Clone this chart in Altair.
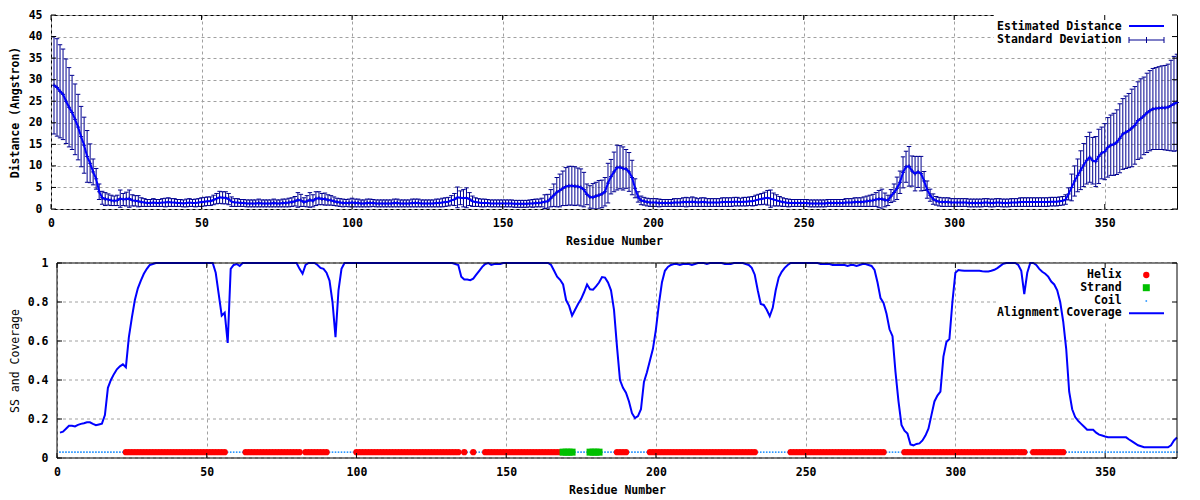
import altair as alt
import pandas as pd

# ---------------- data ----------------
RESIDUES = list(range(1, 375))

DIST = [
    28.7, 28.2, 27.3, 26.6, 25.0, 23.6, 22.4, 20.8, 19.0, 16.8,
    14.8, 12.2, 10.6, 8.6, 7.0, 4.0, 2.6, 2.3, 2.2, 2.0,
    1.9, 2.0, 2.4, 2.2, 2.3, 2.4, 2.0, 1.9, 1.8, 1.6,
    1.5, 1.4, 1.4, 1.5, 1.4, 1.4, 1.5, 1.5, 1.6, 1.5,
    1.5, 1.4, 1.4, 1.3, 1.4, 1.5, 1.4, 1.4, 1.5, 1.6,
    1.7, 1.8, 1.8, 2.1, 2.4, 2.7, 2.6, 2.6, 2.3, 1.7,
    1.5, 1.5, 1.4, 1.4, 1.3, 1.3, 1.3, 1.3, 1.4, 1.3,
    1.3, 1.3, 1.3, 1.4, 1.3, 1.3, 1.4, 1.4, 1.5, 1.6,
    1.8, 2.1, 2.0, 1.6, 1.8, 2.1, 1.9, 2.4, 2.5, 2.3,
    2.3, 2.1, 2.0, 1.8, 1.6, 1.5, 1.4, 1.4, 1.4, 1.5,
    1.4, 1.4, 1.3, 1.3, 1.4, 1.4, 1.4, 1.3, 1.3, 1.3,
    1.3, 1.3, 1.3, 1.4, 1.4, 1.3, 1.3, 1.3, 1.3, 1.4,
    1.4, 1.4, 1.3, 1.3, 1.3, 1.3, 1.3, 1.4, 1.4, 1.5,
    1.6, 1.7, 2.0, 2.2, 2.7, 2.6, 2.5, 2.6, 2.3, 1.8,
    1.6, 1.5, 1.4, 1.4, 1.4, 1.3, 1.3, 1.3, 1.3, 1.3,
    1.3, 1.3, 1.3, 1.2, 1.2, 1.2, 1.2, 1.2, 1.3, 1.3,
    1.4, 1.4, 1.5, 1.7, 1.8, 2.5, 3.2, 3.9, 4.3, 4.8,
    5.2, 5.4, 5.4, 5.3, 5.2, 5.0, 4.5, 3.4, 2.8, 2.7,
    3.0, 3.2, 3.5, 4.0, 6.0, 7.5, 8.6, 9.6, 9.7, 9.4,
    9.3, 8.6, 7.3, 4.8, 2.8, 2.0, 1.8, 1.6, 1.5, 1.5,
    1.5, 1.4, 1.4, 1.4, 1.4, 1.4, 1.5, 1.5, 1.5, 1.6,
    1.6, 1.6, 1.7, 1.6, 1.5, 1.6, 1.6, 1.5, 1.5, 1.5,
    1.5, 1.5, 1.6, 1.6, 1.6, 1.6, 1.7, 1.7, 1.6, 1.7,
    1.7, 1.8, 1.8, 2.0, 2.2, 2.3, 2.5, 2.6, 2.4, 2.2,
    2.0, 1.8, 1.6, 1.5, 1.4, 1.4, 1.4, 1.4, 1.4, 1.4,
    1.4, 1.3, 1.3, 1.3, 1.3, 1.3, 1.3, 1.4, 1.4, 1.4,
    1.4, 1.4, 1.4, 1.5, 1.5, 1.5, 1.6, 1.6, 1.6, 1.7,
    1.8, 1.9, 2.0, 2.2, 2.3, 2.3, 2.1, 2.0, 3.0, 3.8,
    4.8, 6.2, 8.5, 9.8, 9.9, 8.8, 8.2, 8.6, 8.2, 6.5,
    4.5, 3.2, 2.3, 1.9, 1.7, 1.6, 1.6, 1.6, 1.5, 1.5,
    1.5, 1.5, 1.5, 1.5, 1.4, 1.4, 1.4, 1.4, 1.4, 1.5,
    1.5, 1.4, 1.4, 1.5, 1.5, 1.4, 1.4, 1.4, 1.5, 1.5,
    1.5, 1.6, 1.6, 1.6, 1.6, 1.6, 1.6, 1.6, 1.6, 1.6,
    1.6, 1.7, 1.7, 1.7, 1.8, 1.9, 2.2, 3.5, 5.0, 6.5,
    7.8, 9.0, 10.2, 11.3, 12.0, 11.2, 11.0, 12.2, 13.0, 13.3,
    14.3, 14.8, 15.0, 15.5, 16.4, 17.4, 17.8, 18.2, 18.8, 19.4,
    20.5, 21.0, 21.6, 22.3, 22.8, 23.2, 23.3, 23.4, 23.5, 23.5,
    23.6, 24.0, 24.4, 24.7,
]

STD = [
    11.3, 11.3, 10.8, 10.5, 9.8, 9.2, 8.6, 8.2, 7.6, 7.0,
    6.5, 6.0, 4.5, 3.0, 2.4, 1.8, 1.5, 1.5, 1.3, 1.2,
    1.1, 1.2, 2.0, 1.4, 1.6, 2.0, 1.3, 1.2, 1.3, 1.0,
    0.9, 0.8, 0.8, 0.9, 0.8, 0.8, 0.9, 1.0, 1.0, 0.9,
    0.9, 0.8, 0.8, 0.8, 0.9, 0.9, 0.8, 0.9, 0.9, 1.0,
    1.0, 1.0, 1.0, 1.1, 1.2, 1.4, 1.4, 1.4, 1.3, 1.1,
    0.9, 0.9, 0.8, 0.8, 0.8, 0.8, 0.8, 0.8, 0.9, 0.8,
    0.8, 0.8, 0.8, 0.9, 0.8, 0.8, 0.9, 0.9, 1.0, 1.0,
    1.1, 1.7, 1.4, 1.0, 1.3, 1.7, 1.4, 1.6, 1.5, 1.3,
    1.4, 1.2, 1.1, 1.0, 0.9, 0.9, 0.9, 0.8, 0.9, 1.0,
    0.9, 0.9, 0.8, 0.8, 0.9, 0.9, 0.8, 0.8, 0.8, 0.8,
    0.8, 0.8, 0.8, 0.9, 0.9, 0.8, 0.8, 0.8, 0.8, 0.9,
    0.9, 0.9, 0.8, 0.8, 0.8, 0.8, 0.8, 0.9, 0.9, 1.0,
    1.0, 1.0, 1.1, 1.4, 2.4, 1.6, 2.0, 2.3, 1.5, 1.2,
    1.0, 0.9, 0.9, 0.9, 0.8, 0.8, 0.8, 0.8, 0.8, 0.8,
    0.8, 0.8, 0.8, 0.8, 0.8, 0.8, 0.8, 0.8, 0.8, 0.9,
    0.9, 0.9, 1.0, 1.6, 1.6, 2.0, 2.6, 3.4, 3.8, 4.0,
    4.4, 4.5, 4.5, 4.5, 4.3, 4.3, 4.0, 2.4, 2.6, 3.2,
    3.2, 3.4, 3.2, 3.3, 4.6, 4.0, 4.6, 5.2, 5.0, 5.0,
    4.5, 4.5, 4.0, 2.2, 1.2, 1.0, 0.9, 0.9, 0.9, 0.9,
    0.9, 0.9, 0.8, 0.8, 0.8, 0.8, 0.9, 0.9, 0.9, 1.0,
    1.1, 1.0, 1.1, 1.0, 0.9, 1.0, 1.0, 0.9, 0.9, 0.9,
    0.9, 0.9, 1.0, 1.0, 1.0, 1.0, 1.0, 1.0, 0.9, 1.0,
    1.0, 1.0, 1.1, 1.2, 1.2, 1.3, 1.4, 1.7, 2.0, 1.5,
    1.3, 1.1, 1.0, 0.9, 0.9, 0.8, 0.8, 0.8, 0.8, 0.8,
    0.8, 0.8, 0.8, 0.8, 0.8, 0.8, 0.8, 0.8, 0.8, 0.8,
    0.8, 0.8, 0.8, 0.9, 0.9, 0.9, 1.0, 1.0, 1.0, 1.1,
    1.2, 1.3, 1.4, 1.6, 2.0, 2.3, 1.6, 1.2, 1.5, 2.0,
    2.6, 2.6, 3.6, 3.6, 4.6, 3.5, 4.0, 3.6, 4.0, 2.2,
    2.0, 1.4, 1.2, 1.0, 1.0, 1.0, 1.0, 1.0, 0.9, 0.9,
    0.9, 0.9, 0.9, 0.9, 0.9, 0.9, 0.9, 0.9, 0.9, 0.9,
    0.9, 0.9, 0.9, 0.9, 0.9, 0.9, 0.9, 0.9, 0.9, 0.9,
    0.9, 1.0, 1.0, 1.0, 1.0, 1.0, 1.0, 1.0, 1.0, 1.0,
    1.0, 1.0, 1.0, 1.0, 1.0, 1.0, 1.1, 1.4, 3.1, 3.5,
    3.8, 4.5, 5.0, 5.5, 5.8, 5.4, 5.8, 6.3, 6.0, 6.5,
    6.9, 7.0, 7.2, 7.5, 8.0, 8.2, 8.4, 8.6, 9.0, 9.0,
    9.0, 9.2, 9.0, 9.2, 9.3, 9.4, 9.5, 9.6, 9.7, 9.8,
    10.0, 10.5, 11.0, 11.2,
]

COVERAGE = [
    0.130, 0.135, 0.150, 0.165, 0.165, 0.162, 0.170, 0.175, 0.178, 0.183,
    0.183, 0.175, 0.168, 0.172, 0.176, 0.220, 0.360, 0.400, 0.430, 0.455,
    0.470, 0.480, 0.465, 0.620, 0.720, 0.810, 0.870, 0.910, 0.945, 0.970,
    0.990, 0.995, 1.0, 1.0, 1.0, 1.0, 1.0, 1.0, 1.0, 1.0,
    1.0, 1.0, 1.0, 1.0, 1.0, 1.0, 1.0, 1.0, 1.0, 1.0,
    1.0, 1.0, 0.950, 0.840, 0.730, 0.745, 0.590, 0.970, 0.990, 0.995,
    0.985, 1.0, 1.0, 1.0, 1.0, 1.0, 1.0, 1.0, 1.0, 1.0,
    1.0, 1.0, 1.0, 1.0, 1.0, 1.0, 1.0, 1.0, 1.0, 1.0,
    0.970, 0.945, 0.990, 1.0, 1.0, 1.0, 0.990, 0.975, 0.970, 0.950,
    0.910, 0.800, 0.620, 0.860, 0.970, 1.0, 1.0, 1.0, 1.0, 1.0,
    1.0, 1.0, 1.0, 1.0, 1.0, 1.0, 1.0, 1.0, 1.0, 1.0,
    1.0, 1.0, 1.0, 1.0, 1.0, 1.0, 1.0, 1.0, 1.0, 1.0,
    1.0, 1.0, 1.0, 1.0, 1.0, 1.0, 1.0, 1.0, 1.0, 1.0,
    1.0, 1.0, 0.995, 0.990, 0.930, 0.915, 0.915, 0.912, 0.920, 0.940,
    0.960, 0.980, 0.995, 1.0, 0.990, 0.995, 0.995, 0.995, 1.0, 1.0,
    1.0, 1.0, 1.0, 1.0, 1.0, 1.0, 1.0, 1.0, 1.0, 1.0,
    1.0, 1.0, 1.0, 1.0, 0.990, 0.960, 0.930, 0.914, 0.890, 0.810,
    0.780, 0.730, 0.760, 0.790, 0.815, 0.850, 0.890, 0.865, 0.863, 0.880,
    0.900, 0.928, 0.925, 0.900, 0.860, 0.760, 0.570, 0.400, 0.360, 0.335,
    0.290, 0.230, 0.205, 0.215, 0.250, 0.390, 0.440, 0.500, 0.560, 0.660,
    0.790, 0.900, 0.960, 0.980, 0.990, 0.995, 0.995, 0.990, 0.995, 0.995,
    0.995, 0.990, 0.995, 1.0, 1.0, 1.0, 0.995, 1.0, 1.0, 1.0,
    1.0, 1.0, 0.995, 0.995, 0.995, 1.0, 1.0, 1.0, 1.0, 0.995,
    0.990, 0.975, 0.940, 0.860, 0.790, 0.785, 0.760, 0.727, 0.770, 0.860,
    0.925, 0.955, 0.975, 0.990, 1.0, 1.0, 1.0, 1.0, 1.0, 1.0,
    1.0, 1.0, 1.0, 1.0, 0.995, 0.995, 0.995, 0.995, 0.990, 0.990,
    0.990, 0.990, 0.990, 0.985, 0.990, 0.990, 0.985, 0.990, 0.995, 0.995,
    0.990, 0.985, 0.964, 0.900, 0.820, 0.795, 0.740, 0.660, 0.625, 0.440,
    0.290, 0.170, 0.140, 0.125, 0.070, 0.065, 0.072, 0.075, 0.090, 0.115,
    0.150, 0.220, 0.290, 0.320, 0.340, 0.520, 0.595, 0.610, 0.800, 0.950,
    0.964, 0.962, 0.960, 0.960, 0.960, 0.960, 0.960, 0.960, 0.958, 0.957,
    0.957, 0.960, 0.965, 0.974, 0.985, 0.996, 1.0, 1.0, 1.0, 1.0,
    0.990, 0.960, 0.840, 0.950, 1.0, 1.0, 0.990, 0.970, 0.955, 0.945,
    0.930, 0.905, 0.890, 0.860, 0.800, 0.700, 0.560, 0.340, 0.250, 0.210,
    0.190, 0.175, 0.160, 0.145, 0.145, 0.145, 0.130, 0.120, 0.115, 0.110,
    0.106, 0.106, 0.106, 0.106, 0.106, 0.106, 0.106, 0.095, 0.085, 0.075,
    0.065, 0.060, 0.055, 0.055, 0.055, 0.055, 0.055, 0.055, 0.055, 0.055,
    0.055, 0.065, 0.090, 0.105,
]

HELIX_SEGMENTS = [(23, 56), (63, 81), (83, 90), (100, 134), (136, 136), (139, 139),
                  (143, 168), (187, 190), (198, 233), (245, 276), (283, 323), (326, 336)]
STRAND_SEGMENTS = [(169, 172), (178, 181)]
SS_LEVEL = 0.03

X_TICKS = [0, 50, 100, 150, 200, 250, 300, 350]
TOP_Y_TICKS = [0, 5, 10, 15, 20, 25, 30, 35, 40, 45]
BOT_Y_TICKS = [0, 0.2, 0.4, 0.6, 0.8, 1.0]
X_MAX = 374

# ---------------- tables ----------------
top_df = pd.DataFrame({"residue": RESIDUES, "dist": DIST, "std": STD})
top_df["lo"] = (top_df["dist"] - top_df["std"]).clip(lower=0)
top_df["hi"] = top_df["dist"] + top_df["std"]

ss = ["C"] * len(RESIDUES)
for a, b in HELIX_SEGMENTS:
    for r in range(a, b + 1):
        ss[r - 1] = "H"
for a, b in STRAND_SEGMENTS:
    for r in range(a, b + 1):
        ss[r - 1] = "E"
bot_df = pd.DataFrame({"residue": RESIDUES, "coverage": COVERAGE, "ss": ss})
bot_df["level"] = SS_LEVEL

one = pd.DataFrame({"k": [0]})
xt_df = pd.DataFrame({"t": X_TICKS})
yt_top = pd.DataFrame({"t": TOP_Y_TICKS})
yt_bot = pd.DataFrame({"t": BOT_Y_TICKS})

# ---------------- style ----------------
FONT = "DejaVu Sans Mono"
FS = 11.5
LINE_BLUE = "#0000ff"
ERR_BLUE = "#000090"
HELIX_RED = "#ff0000"
STRAND_GREEN = "#00c000"
COIL_BLUE = "#1e90ff"
GRID = "#a0a0a0"

W, H1, H2 = 1126, 194, 195
L2 = 6  # the lower panel's frame starts 6px to the right of the upper one

xs_top = alt.Scale(domain=[0, X_MAX], nice=False, zero=False)
xs_bot = alt.Scale(domain=[0, X_MAX], nice=False, zero=False, range=[L2, W])
ys_top = alt.Scale(domain=[0, 45], nice=False, zero=False)
ys_bot = alt.Scale(domain=[0, 1], nice=False, zero=False)

X_AXIS = alt.Axis(values=X_TICKS, format="d", title="Residue Number", grid=True,
                  labelPadding=8, titlePadding=7)
Y_AXIS_TOP = alt.Axis(values=TOP_Y_TICKS, format="d", title="Distance (Angstron)", grid=True,
                      labelPadding=9, titlePadding=8)
Y_AXIS_BOT = alt.Axis(values=BOT_Y_TICKS, format=".1~f", title="SS and Coverage", grid=False,
                      labelPadding=9, titlePadding=7, offset=-L2, titleFontWeight="normal")


def XT(field):
    return alt.X(field, scale=xs_top, axis=X_AXIS)


def XB(field):
    return alt.X(field, scale=xs_bot, axis=X_AXIS)


def YT(field):
    return alt.Y(field, scale=ys_top, axis=Y_AXIS_TOP)


def YB(field):
    return alt.Y(field, scale=ys_bot, axis=Y_AXIS_BOT)


def label(txt, x, y):
    return alt.Chart(one).mark_text(align="right", baseline="middle", font=FONT, fontSize=FS,
                                    fontWeight="bold", color="black").encode(
        x=alt.value(x), y=alt.value(y), text=alt.value(txt))


def hline(x1, x2, y, color, w):
    return alt.Chart(one).mark_rule(color=color, strokeWidth=w).encode(
        x=alt.value(x1), x2=alt.value(x2), y=alt.value(y))


def vline(x, y1, y2, color, w):
    return alt.Chart(one).mark_rule(color=color, strokeWidth=w).encode(
        x=alt.value(x), y=alt.value(y1), y2=alt.value(y2))


def box(x1, x2, y1, y2):
    return alt.Chart(one).mark_rect(color="white").encode(
        x=alt.value(x1), x2=alt.value(x2), y=alt.value(y1), y2=alt.value(y2))


def inner_ticks(Xf, ydf, Yf, left, right, H):
    bx = alt.Chart(xt_df).mark_rule(color="black").encode(
        x=Xf("t:Q"), y=alt.value(H), y2=alt.value(H - 5))
    tx = alt.Chart(xt_df).mark_rule(color="black").encode(
        x=Xf("t:Q"), y=alt.value(0), y2=alt.value(5))
    ly = alt.Chart(ydf).mark_rule(color="black").encode(
        y=Yf("t:Q"), x=alt.value(left), x2=alt.value(left + 5))
    ry = alt.Chart(ydf).mark_rule(color="black").encode(
        y=Yf("t:Q"), x=alt.value(right - 5), x2=alt.value(right))
    return [bx, tx, ly, ry]


# ---------------- top panel ----------------
base_top = alt.Chart(top_df)
err = base_top.mark_rule(color=ERR_BLUE, strokeWidth=1, clip=True).encode(
    x=XT("residue:Q"), y=YT("lo:Q"), y2="hi:Q")
cap_hi = base_top.mark_point(shape="M-1,0H1", size=20, filled=False, strokeWidth=1,
                             color=ERR_BLUE, opacity=1, clip=True).encode(
    x=XT("residue:Q"), y=YT("hi:Q"))
cap_lo = base_top.mark_point(shape="M-1,0H1", size=20, filled=False, strokeWidth=1,
                             color=ERR_BLUE, opacity=1, clip=True).encode(
    x=XT("residue:Q"), y=YT("lo:Q"))
ctr = base_top.mark_point(shape="M-1,0H1M0,-1V1", size=16, filled=False, strokeWidth=1,
                          color=ERR_BLUE, opacity=1).encode(
    x=XT("residue:Q"), y=YT("dist:Q"))
dline = base_top.mark_line(color=LINE_BLUE, strokeWidth=2).encode(
    x=XT("residue:Q"), y=YT("dist:Q"))

top = alt.layer(
    err, box(943, W, 0, 32), cap_hi, cap_lo, ctr, dline,
    *inner_ticks(XT, yt_top, YT, 0, W, H1),
    label("Estimated Distance", 1070.7, 11.8),
    hline(1078, 1113, 11, LINE_BLUE, 2),
    label("Standard Deviation", 1070.7, 24.8),
    hline(1078, 1113, 25, ERR_BLUE, 1),
    vline(1078, 22, 28, ERR_BLUE, 1),
    vline(1113, 22, 28, ERR_BLUE, 1),
    vline(1095.5, 22, 28, ERR_BLUE, 1),
).properties(width=W, height=H1)

# ---------------- bottom panel ----------------
base_bot = alt.Chart(bot_df)
ygrid = alt.Chart(yt_bot).mark_rule(color=GRID, strokeDash=[3, 3], strokeWidth=1).encode(
    y=YB("t:Q"), x=alt.value(L2), x2=alt.value(W))
coil = base_bot.transform_filter(alt.datum.ss == "C").mark_square(
    size=2.5, color=COIL_BLUE, opacity=1).encode(x=XB("residue:Q"), y=YB("level:Q"))
helix = base_bot.transform_filter(alt.datum.ss == "H").mark_circle(
    size=40, color=HELIX_RED, opacity=1).encode(x=XB("residue:Q"), y=YB("level:Q"))
strand = base_bot.transform_filter(alt.datum.ss == "E").mark_square(
    size=49, color=STRAND_GREEN, opacity=1).encode(x=XB("residue:Q"), y=YB("level:Q"))
cov = base_bot.mark_line(color=LINE_BLUE, strokeWidth=2).encode(
    x=XB("residue:Q"), y=YB("coverage:Q"))

frame = [
    vline(L2, 0, H2, "black", 1), vline(W, 0, H2, "black", 1),
    hline(L2, W, 0, "black", 1), hline(L2, W, H2, "black", 1),
]

bottom = alt.layer(
    ygrid, coil, box(945, W, 0, 59), helix, strand, cov,
    *inner_ticks(XB, yt_bot, YB, L2, W, H2),
    *frame,
    label("Helix", 1070.7, 12),
    alt.Chart(one).mark_circle(size=40, color=HELIX_RED, opacity=1).encode(
        x=alt.value(1095.3), y=alt.value(12)),
    label("Strand", 1070.7, 24.7),
    alt.Chart(one).mark_square(size=49, color=STRAND_GREEN, opacity=1).encode(
        x=alt.value(1095.3), y=alt.value(24.7)),
    label("Coil", 1070.7, 38),
    alt.Chart(one).mark_square(size=2.5, color=COIL_BLUE, opacity=1).encode(
        x=alt.value(1095.3), y=alt.value(38)),
    label("Alignment Coverage", 1070.7, 50.3),
    hline(1078, 1113, 50.3, LINE_BLUE, 2),
).properties(width=W, height=H2, view=alt.ViewBackground(stroke="transparent"))

chart = alt.vconcat(top, bottom, spacing=8).properties(
    padding=0, background="white"
).configure_axis(
    labelFont=FONT, labelFontSize=FS, labelFontWeight="bold", labelColor="black",
    titleFont=FONT, titleFontSize=FS, titleFontWeight="bold", titleColor="black",
    gridColor=GRID, gridDash=[3, 3], gridOpacity=1, gridWidth=1,
    ticks=False, domain=False, labelFlush=False, labelOverlap=False,
).configure_view(stroke="black", strokeWidth=1)

chart.save("out.html", embed_options={"renderer": "svg", "actions": False})
